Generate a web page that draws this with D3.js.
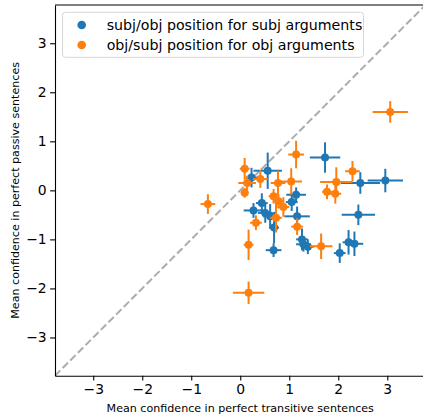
<!DOCTYPE html>
<html>
<head>
<meta charset='utf-8' />
<script src="https://d3js.org/d3.v7.min.js"></script>
<style>
body { margin: 0; padding: 0; background: #fff; }
text { font-family: 'DejaVu Sans', sans-serif; }
</style>
</head>
<body>
<div id='chart'></div>
<script>

// subj/obj position for subj arguments (blue)
var subjX    = [0.23, 0.56, 1.73, 2.45, 2.96, 1.14, 1.05, 0.44, 0.27, 0.51, 0.61, 1.16, 0.69, 0.68, 1.26, 1.29, 1.38, 2.41, 2.21, 2.33, 2.03];
var subjY    = [0.26, 0.40, 0.67, 0.15, 0.20, -0.09, -0.24, -0.26, -0.41, -0.46, -0.53, -0.53, -0.76, -1.22, -1.00, -1.10, -1.15, -0.50, -1.06, -1.09, -1.28];
var subjXerr = [0.12, 0.29, 0.31, 0.40, 0.36, 0.20, 0.12, 0.12, 0.20, 0.15, 0.15, 0.26, 0.10, 0.16, 0.12, 0.15, 0.12, 0.34, 0.12, 0.18, 0.12];
var subjYerr = [0.20, 0.37, 0.31, 0.22, 0.24, 0.15, 0.18, 0.20, 0.15, 0.20, 0.25, 0.20, 0.32, 0.14, 0.22, 0.15, 0.15, 0.21, 0.25, 0.25, 0.20];

// obj/subj position for obj arguments (orange)
var objX    = [3.06, 1.14, 2.29, 1.96, 1.77, 1.94, 1.65, 1.16, 1.04, 0.88, -0.66, 0.09, 0.14, 0.09, 0.41, 0.77, 0.68, 0.78, 0.73, 0.32, 0.17, 0.17];
var objY    = [1.60, 0.73, 0.39, 0.17, -0.03, -0.07, -1.14, -0.74, 0.18, -0.34, -0.28, 0.44, 0.15, -0.05, 0.23, 0.15, -0.12, -0.22, -0.56, -0.66, -1.11, -2.09];
var objXerr = [0.36, 0.16, 0.15, 0.33, 0.10, 0.12, 0.23, 0.12, 0.22, 0.12, 0.15, 0.10, 0.18, 0.08, 0.15, 0.15, 0.10, 0.10, 0.12, 0.12, 0.10, 0.32];
var objYerr = [0.22, 0.28, 0.21, 0.30, 0.15, 0.20, 0.26, 0.17, 0.27, 0.20, 0.20, 0.22, 0.15, 0.10, 0.18, 0.25, 0.15, 0.15, 0.30, 0.15, 0.31, 0.23];

var seriesNames = ["subj/obj position for subj arguments", "obj/subj position for obj arguments"];
var seriesColors = ["#1f77b4", "#ff7f0e"];
var tickValues = [-3, -2, -1, 0, 1, 2, 3];
var axisMin = -3.78, axisMax = 3.78;

var W = 423, H = 419;
var margin = {top: 5, left: 55},
    width = 370.5,
    height = 370.7;

var svg = d3.select("#chart")
  .append("svg")
    .attr("width", W)
    .attr("height", H);

var g = svg.append("g")
    .attr("transform", "translate(" + margin.left + "," + margin.top + ")");

var x = d3.scaleLinear().domain([axisMin, axisMax]).range([0, width]);
var y = d3.scaleLinear().domain([axisMin, axisMax]).range([height, 0]);

// diagonal
g.append("line")
  .attr("x1", x(axisMin)).attr("y1", y(axisMin))
  .attr("x2", x(axisMax)).attr("y2", y(axisMax))
  .attr("stroke", "#acacac")
  .attr("stroke-width", 2)
  .attr("stroke-dasharray", "7.5,3.3");

function drawSeries(xs, ys, xe, ye, color) {
  var data = xs.map(function(d, i) { return {x: d, y: ys[i], xe: xe[i], ye: ye[i]}; });
  var s = g.append("g");
  s.selectAll(".h").data(data).enter().append("line")
    .attr("x1", function(d) { return x(d.x - d.xe); })
    .attr("x2", function(d) { return x(d.x + d.xe); })
    .attr("y1", function(d) { return y(d.y); })
    .attr("y2", function(d) { return y(d.y); })
    .attr("stroke", color).attr("stroke-width", 2);
  s.selectAll(".v").data(data).enter().append("line")
    .attr("x1", function(d) { return x(d.x); })
    .attr("x2", function(d) { return x(d.x); })
    .attr("y1", function(d) { return y(d.y - d.ye); })
    .attr("y2", function(d) { return y(d.y + d.ye); })
    .attr("stroke", color).attr("stroke-width", 2);
  s.selectAll("circle").data(data).enter().append("circle")
    .attr("cx", function(d) { return x(d.x); })
    .attr("cy", function(d) { return y(d.y); })
    .attr("r", 4)
    .attr("fill", color);
}

drawSeries(subjX, subjY, subjXerr, subjYerr, seriesColors[0]);
drawSeries(objX, objY, objXerr, objYerr, seriesColors[1]);

// axes
var xAxis = g.append("g")
  .attr("transform", "translate(0," + height + ")")
  .call(d3.axisBottom(x).tickValues(tickValues).tickSize(4.9).tickPadding(3.5).tickSizeOuter(0));
var yAxis = g.append("g")
  .call(d3.axisLeft(y).tickValues(tickValues).tickSize(4.9).tickPadding(3.5).tickSizeOuter(0));
[xAxis, yAxis].forEach(function(a) {
  a.select(".domain").attr("stroke", "#000").attr("stroke-width", 1.1);
  a.selectAll(".tick line").attr("stroke", "#000").attr("stroke-width", 1.1);
  a.selectAll(".tick text").attr("font-size", "13.9px").attr("fill", "#000")
    .style("font-family", "'DejaVu Sans', sans-serif");
});

// top spine
g.append("line")
  .attr("x1", 0).attr("x2", width).attr("y1", 0).attr("y2", 0)
  .attr("stroke", "#000").attr("stroke-width", 1.1);

svg.append("text")
  .attr("x", margin.left + x(0))
  .attr("y", 412)
  .attr("text-anchor", "middle")
  .attr("font-size", "11.1px")
  .text("Mean confidence in perfect transitive sentences");

svg.append("text")
  .attr("transform", "translate(19," + (margin.top + y(0)) + ") rotate(-90)")
  .attr("text-anchor", "middle")
  .attr("font-size", "11.1px")
  .text("Mean confidence in perfect passive sentences");

// legend
var legend = svg.append("g").attr("transform", "translate(62.5,12.3)");
legend.append("rect")
  .attr("width", 301).attr("height", 45)
  .attr("rx", 3)
  .attr("fill", "#fff").attr("fill-opacity", 0.8)
  .attr("stroke", "#d6d6d6").attr("stroke-width", 1);
seriesNames.forEach(function(name, i) {
  legend.append("circle")
    .attr("cx", 19.2).attr("cy", 12.7 + i * 20)
    .attr("r", 4.3).attr("fill", seriesColors[i]);
  legend.append("text")
    .attr("x", 44.2).attr("y", 12.7 + i * 20)
    .attr("dy", "0.36em")
    .attr("font-size", "14.2px")
    .text(name);
});

</script>
</body>
</html>
